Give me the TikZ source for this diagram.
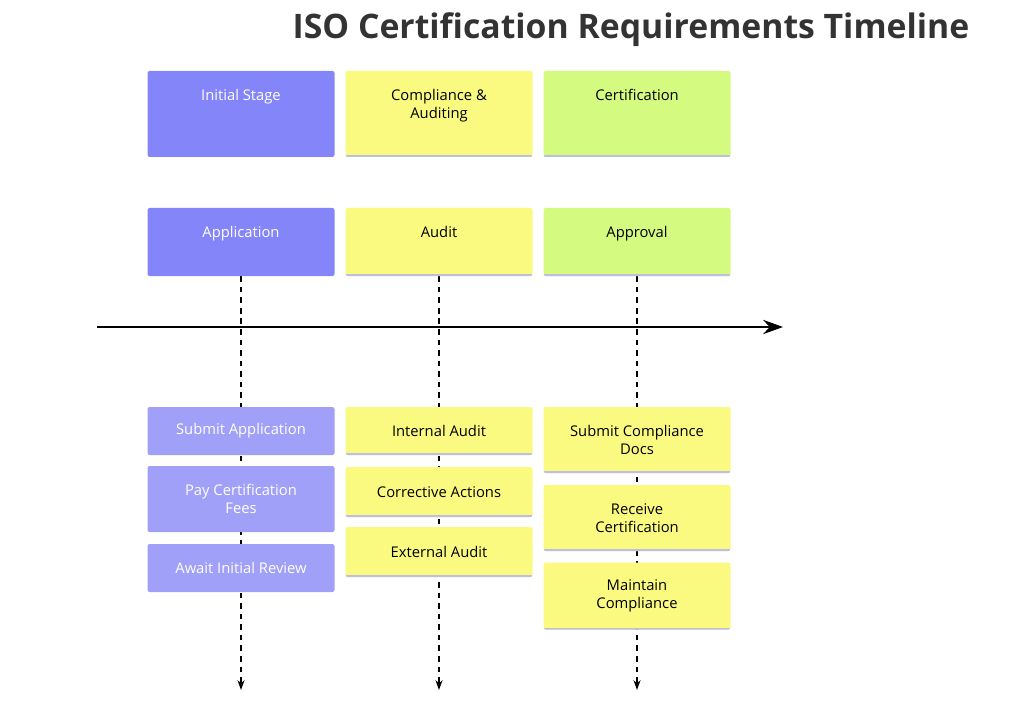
\documentclass[tikz,border=0pt]{standalone}
\usepackage{fontspec}
\setmainfont{Open Sans}
\usetikzlibrary{positioning,arrows.meta,backgrounds}
\definecolor{purpleHead}{HTML}{8585FA}
\definecolor{purpleTask}{HTML}{A0A0F8}
\definecolor{yellowBox}{HTML}{FAFA80}
\definecolor{greenBox}{HTML}{D4FA80}
\definecolor{stripCol}{HTML}{BEBEE0}
\newcommand{\boxfont}{\fontsize{10.5}{12.8}\selectfont}
\tikzset {
    box/.style={
        rectangle, % plain block
        draw=none,
        rounded corners=1.5pt,
        minimum width=187*0.025cm,
        inner sep=2pt,
        align=center,
        font=\boxfont,
    },
    strip/.style={
        path picture={
            \draw[stripCol, line width=2.5pt]
                (path picture bounding box.south west) -- (path picture bounding box.south east);
        },
    },
    purple head/.style={box, fill=purpleHead, text=white},
    purple task/.style={box, fill=purpleTask, text=white},
    yellow/.style={box, fill=yellowBox, strip},
    green/.style={box, fill=greenBox, strip},
    guide/.style={line width=1.1pt, dash pattern=on 4pt off 3.5pt, -{Stealth[length=7pt, width=5pt]}},
}
\begin{document}
\begin{tikzpicture}[x=0.025cm, y=-0.025cm]
    \useasboundingbox (0,0) rectangle (1024,708);

    \node[font=\bfseries\fontsize{24}{28}\selectfont, text=black!80] (title) at (631,30) {ISO Certification Requirements Timeline};

    % phase headers
    \node[purple head, minimum height=86*0.025cm, label={[anchor=north, text=white, font=\boxfont, yshift=-14*0.025cm]north:Initial Stage}] (initial) at (241,114) {};
    \node[yellow, minimum height=86*0.025cm, label={[anchor=north, align=center, font=\boxfont, yshift=-14*0.025cm]north:Compliance \&\\Auditing}] (compliance) at (439,114) {};
    \node[green, minimum height=86*0.025cm, label={[anchor=north, font=\boxfont, yshift=-14*0.025cm]north:Certification}] (certification) at (637,114) {};

    \node[purple head, minimum height=68*0.025cm, label={[anchor=north, text=white, font=\boxfont, yshift=-14*0.025cm]north:Application}] (application) at (241,242) {};
    \node[yellow, minimum height=68*0.025cm, label={[anchor=north, font=\boxfont, yshift=-14*0.025cm]north:Audit}] (audit) at (439,242) {};
    \node[green, minimum height=68*0.025cm, label={[anchor=north, font=\boxfont, yshift=-14*0.025cm]north:Approval}] (approval) at (637,242) {};

    % tasks
    \node[purple task, minimum height=48*0.025cm] (submitApp) at (241,431) {Submit Application};
    \node[purple task, minimum height=66*0.025cm] (payFees) at (241,499) {Pay Certification\\Fees};
    \node[purple task, minimum height=48*0.025cm] (awaitReview) at (241,568) {Await Initial Review};

    \node[yellow, minimum height=48*0.025cm] (internalAudit) at (439,431) {Internal Audit};
    \node[yellow, minimum height=50*0.025cm] (corrective) at (439,492) {Corrective Actions};
    \node[yellow, minimum height=50*0.025cm] (externalAudit) at (439,552) {External Audit};

    \node[yellow, minimum height=66*0.025cm] (submitDocs) at (637,440) {Submit Compliance\\Docs};
    \node[yellow, minimum height=66*0.025cm] (receiveCert) at (637,518) {Receive\\Certification};
    \node[yellow, minimum height=67*0.025cm] (maintain) at (637,596) {Maintain\\Compliance};

    \coordinate (end1) at (241,690);
    \coordinate (end2) at (439,690);
    \coordinate (end3) at (637,690);
    \coordinate (axisStart) at (97,327);
    \coordinate (axisEnd) at (783,327);

    \begin{scope}[on background layer]
        \draw[guide] (application.south) -- (end1);
        \draw[guide] (audit.south) -- (end2);
        \draw[guide] (approval.south) -- (end3);
    \end{scope}

    \draw[line width=2pt, -{Stealth[length=14pt, width=10pt]}] (axisStart) -- (axisEnd);
\end{tikzpicture}
\end{document}
